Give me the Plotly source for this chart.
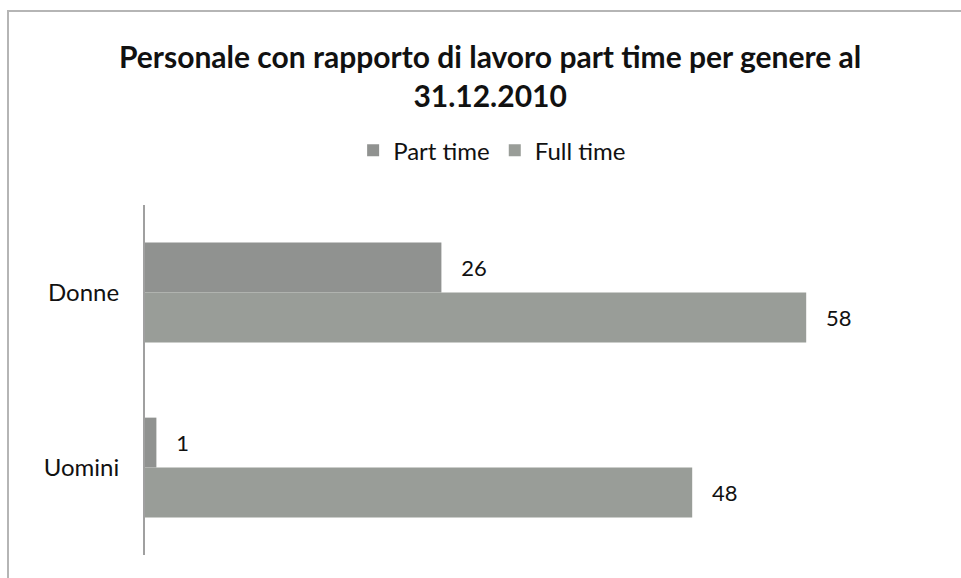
import plotly.graph_objects as go

categories = ["Donne", "Uomini"]
part_time = [26, 1]
full_time = [58, 48]
series_names = ["Part time", "Full time"]
title_text = "Personale con rapporto di lavoro part time per genere al<br>31.12.2010"

part_color = "#909290"
full_color = "#999d98"
font_family = "Lato, 'Open Sans', sans-serif"
label_font = dict(size=22, color="#111111", family=font_family)

# plot area in pixels: x 145..943, y 205..555
fig = go.Figure()
fig.add_trace(go.Bar(
    y=categories, x=part_time, name=series_names[0], orientation="h",
    marker=dict(color=part_color, line=dict(width=0)),
    texttemplate="   %{x}", textposition="outside", cliponaxis=False,
    textfont=label_font,
))
fig.add_trace(go.Bar(
    y=categories, x=full_time, name=series_names[1], orientation="h",
    marker=dict(color=full_color, line=dict(width=0)),
    texttemplate="   %{x}", textposition="outside", cliponaxis=False,
    textfont=label_font,
))

fig.update_layout(
    width=961, height=578,
    paper_bgcolor="white", plot_bgcolor="white",
    margin=dict(l=145, r=18, t=205, b=23),
    barmode="group", bargap=0.43, bargroupgap=0,
    font=dict(family=font_family, color="#111111"),
    title=dict(text="<b>" + title_text + "</b>", x=0.51, xanchor="center",
               y=1 - 68 / 578, yanchor="middle",
               font=dict(size=30, family=font_family, color="#111111")),
    legend=dict(orientation="h", x=0.435, xanchor="center", y=1.155,
                yanchor="middle", font=dict(size=24, family=font_family),
                traceorder="normal"),
    showlegend=True,
    xaxis=dict(range=[0, 70], visible=False),
    yaxis=dict(autorange="reversed", showline=True, linecolor="#a0a0a0",
               linewidth=2, showgrid=False, ticks="", ticklabelstandoff=19,
               tickfont=dict(size=24, family=font_family, color="#111111")),
    # chart frame: left edge at 8px, top edge at 11px, running off right and bottom
    shapes=[dict(type="rect", xref="paper", yref="paper",
                 x0=(8 - 145) / 798, x1=(1200 - 145) / 798,
                 y0=-100 / 350, y1=(578 - 23 - 11) / 350,
                 line=dict(color="#b5b5b5", width=2))],
)

fig.write_html("out.html")
